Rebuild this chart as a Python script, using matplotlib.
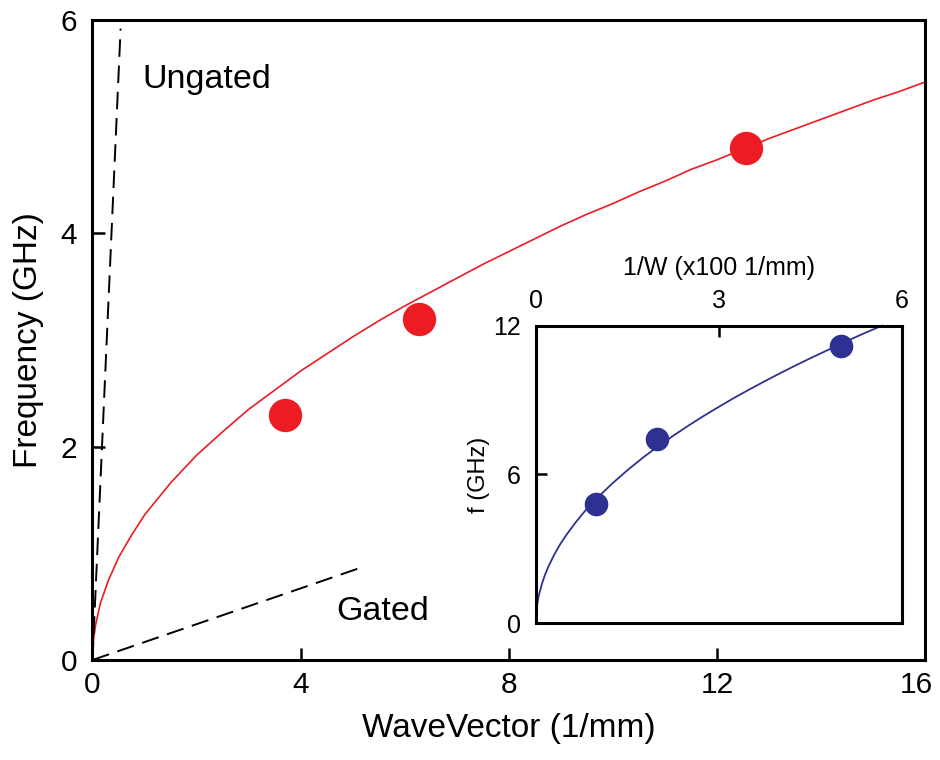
import matplotlib
matplotlib.use("Agg")
import matplotlib.pyplot as plt
from matplotlib.transforms import ScaledTranslation

plt.rcParams['font.family'] = ['Liberation Sans', 'DejaVu Sans']

# ---- main panel data ----
meas_k = [3.70, 6.28, 12.56]
meas_f = [2.30, 3.20, 4.80]

fit_k = [0, 0.02, 0.06, 0.15, 0.3, 0.5, 0.75, 1.0, 1.25, 1.5, 1.75, 2.0, 2.5,
         3.0, 3.5, 4.0, 4.5, 5.0, 5.5, 6.0, 6.5, 7.0, 7.5, 8.0, 8.5, 9.0, 9.5,
         10.0, 10.5, 11.0, 11.5, 12.0, 12.5, 13.0, 13.5, 14.0, 14.5, 15.0,
         15.5, 16.0]
fit_f = [0, 0.19, 0.33, 0.53, 0.74, 0.96, 1.17, 1.36, 1.51, 1.66, 1.79, 1.92,
         2.14, 2.35, 2.53, 2.71, 2.87, 3.03, 3.18, 3.32, 3.45, 3.58, 3.71,
         3.83, 3.95, 4.07, 4.18, 4.28, 4.39, 4.49, 4.60, 4.69, 4.79, 4.89,
         4.98, 5.07, 5.16, 5.25, 5.33, 5.42]

ungated_k = [0, 0.54]
ungated_f = [0, 5.92]
gated_k = [0, 5.24]
gated_f = [0, 0.88]

main_xticks = [0, 4, 8, 12, 16]
main_yticks = [0, 2, 4, 6]

# ---- inset data ----
ins_w = [0.99, 1.99, 5.00]
ins_f = [4.81, 7.45, 11.20]
ins_fit_w = [0, 0.005, 0.02, 0.05, 0.1, 0.15, 0.2, 0.3, 0.4, 0.5, 0.65, 0.8,
             1.0, 1.25, 1.5, 1.75, 2.0, 2.25, 2.5, 2.75, 3.0, 3.25, 3.5,
             3.75, 4.0, 4.25, 4.5, 4.75, 5.0, 5.33, 5.67]
ins_fit_f = [0, 0.36, 0.71, 1.13, 1.59, 1.95, 2.25, 2.76, 3.19, 3.56, 4.06,
             4.51, 5.04, 5.63, 6.17, 6.67, 7.13, 7.56, 7.97, 8.36, 8.73, 9.09,
             9.43, 9.76, 10.08, 10.39, 10.69, 10.98, 11.27, 11.64, 12.0]
ins_xticks = [0, 3, 6]
ins_yticks = [0, 6, 12]

RED = '#ED1C24'
BLUE = '#2E3192'

fig = plt.figure(figsize=(9.4, 7.6), dpi=100)
ax = fig.add_axes([0.0984, 0.1316, 0.886, 0.842])

ax.plot(fit_k, fit_f, color=RED, lw=1.2, zorder=2)
ax.plot(meas_k, meas_f, 'o', color=RED, ms=24, mec='none', zorder=3)
ax.plot(ungated_k, ungated_f, color='black', lw=1.4, dashes=(9, 4.5))
ax.plot(gated_k, gated_f, color='black', lw=1.4, dashes=(9, 4.5))

ax.text(0.95, 5.44, 'Ungated', fontsize=24.5, va='center', ha='left')
ax.text(4.69, 0.45, 'Gated', fontsize=24.5, va='center', ha='left')

ax.set_xlim(0, 16)
ax.set_ylim(0, 6)
ax.set_xticks(main_xticks)
ax.set_yticks(main_yticks)
ax.tick_params(direction='in', length=9, width=1.8, labelsize=21.5)
ax.tick_params(axis='x', pad=8)
ax.tick_params(axis='y', pad=11)
for s in ax.spines.values():
    s.set_linewidth(2.2)
ax.set_xlabel('WaveVector (1/mm)', fontsize=24, labelpad=10)
ax.set_ylabel('Frequency (GHz)', fontsize=24, labelpad=12)

# shift the last x tick label left so it stays inside the figure
last = ax.xaxis.get_major_ticks()[-1].label1
last.set_transform(last.get_transform() +
                   ScaledTranslation(-0.09, 0, fig.dpi_scale_trans))

# ---- inset ----
ai = fig.add_axes([0.570, 0.1799, 0.3897, 0.3916])
ai.plot(ins_fit_w, ins_fit_f, color=BLUE, lw=1.3, zorder=2, clip_on=False)
ai.plot(ins_w, ins_f, 'o', color=BLUE, ms=17, mec='none', zorder=3)
ai.set_xlim(0, 6)
ai.set_ylim(0, 12)
ai.set_xticks(ins_xticks)
ai.set_yticks(ins_yticks)
ai.xaxis.tick_top()
ai.xaxis.set_label_position('top')
ai.tick_params(direction='in', length=8, width=1.8, labelsize=18)
ai.tick_params(axis='x', pad=9)
ai.tick_params(axis='y', pad=11)
for s in ai.spines.values():
    s.set_linewidth(2.2)
ai.set_xlabel('1/W (x100 1/mm)', fontsize=18, labelpad=10)
ai.set_ylabel('f (GHz)', fontsize=17, labelpad=2)

fig.savefig('out.png', dpi=100)
